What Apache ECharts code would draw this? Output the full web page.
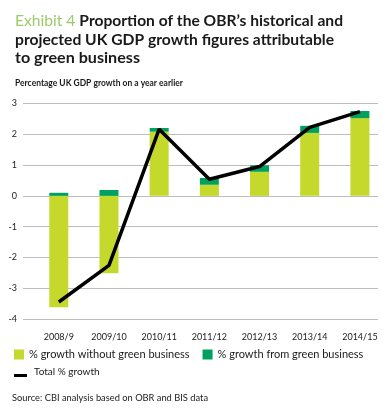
<!DOCTYPE html>
<html><head><meta charset="utf-8">
<script src="https://cdn.jsdelivr.net/npm/echarts@6/dist/echarts.min.js"></script>
<style>html,body{margin:0;padding:0;background:#fff}#c{width:385px;height:410px}</style>
</head><body><div id="c"></div>
<script>
const categories = ['2008/9','2009/10','2010/11','2011/12','2012/13','2013/14','2014/15'];
const withoutGreen = [-3.61, -2.51, 2.08, 0.36, 0.78, 2.04, 2.52];
const fromGreen = [0.10, 0.19, 0.12, 0.22, 0.21, 0.23, 0.23];
const totalGrowth = [-3.44, -2.25, 2.16, 0.54, 0.95, 2.22, 2.73];
const titleLines = ['Proportion of the OBR’s historical and', 'projected UK GDP growth figures attributable', 'to green business'];
const exhibitLabel = 'Exhibit 4 ';
const subtitleText = 'Percentage UK GDP growth on a year earlier';
const sourceText = 'Source: CBI analysis based on OBR and BIS data';

const FONT = "Lato, 'Liberation Sans', sans-serif";
const TXT = '#1a1a1a';
const ctx = document.createElement('canvas').getContext('2d');
function w(text, font) { ctx.font = font; return ctx.measureText(text).width; }

const tFontB = 'bold 16px ' + FONT;
const tFontR = 'normal 16px ' + FONT;
const line1W = w(exhibitLabel, tFontR) + w(titleLines[0], tFontB);
const s1 = 328 / line1W, s2 = 319 / w(titleLines[1], tFontB), s3 = 125 / w(titleLines[2], tFontB);
const subFont = 'bold 9.5px ' + FONT;
const srcFont = 'normal 10px ' + FONT;
const sSub = 168 / w(subtitleText, subFont);
const sSrc = 196 / w(sourceText, srcFont);

const chart = echarts.init(document.getElementById('c'));
chart.setOption({
  animation: false,
  textStyle: { fontFamily: FONT },
  graphic: [
    { type: 'text', x: 15, y: 21, scaleX: s1,
      style: { text: '{a|' + exhibitLabel + '}{b|' + titleLines[0] + '}', verticalAlign: 'middle',
        rich: { a: { font: tFontR, fill: '#9ccb6b' }, b: { font: tFontB, fill: TXT } } } },
    { type: 'text', x: 15, y: 40.3, scaleX: s2,
      style: { text: titleLines[1], font: tFontB, fill: TXT, verticalAlign: 'middle' } },
    { type: 'text', x: 15, y: 57.5, scaleX: s3,
      style: { text: titleLines[2], font: tFontB, fill: TXT, verticalAlign: 'middle' } },
    { type: 'text', x: 15, y: 83.3, scaleX: sSub,
      style: { text: subtitleText, font: subFont, fill: TXT, verticalAlign: 'middle' } },
    { type: 'text', x: 12, y: 397.3, scaleX: sSrc,
      style: { text: sourceText, font: srcFont, fill: TXT, verticalAlign: 'middle' } }
  ],
  legend: [{
    left: 14, top: 349, padding: 0, itemWidth: 10, itemHeight: 10, itemGap: 13,
    icon: 'rect',
    data: ['% growth without green business', '% growth from green business'],
    textStyle: { fontFamily: FONT, fontSize: 11, color: TXT }
  }, {
    left: 14, top: 366, padding: 0, itemWidth: 15, itemHeight: 11, itemGap: 9,
    symbolKeepAspect: false,
    icon: 'path://M0,0M0,8h13v3h-13zM15,0',
    data: [{ name: 'Total % growth', itemStyle: { color: '#000' } }],
    textStyle: { fontFamily: FONT, fontSize: 10, color: TXT }
  }],
  grid: [
    { left: 23, right: 7, top: 103.3, height: 216, containLabel: false },
    { left: 33.7, right: -3, top: 103.3, height: 216, containLabel: false }
  ],
  xAxis: [
    { gridIndex: 0, type: 'category', data: categories, show: false },
    { gridIndex: 1, type: 'category', data: categories,
      axisLine: { show: false }, axisTick: { show: false },
      axisLabel: { margin: 13, fontSize: 9, color: TXT, fontFamily: FONT, interval: 0 } }
  ],
  yAxis: [
    { gridIndex: 0, type: 'value', min: -4, max: 3, interval: 1,
      axisLine: { show: false }, axisTick: { show: false },
      splitLine: { lineStyle: { color: '#bdbdbd', width: 1 } },
      axisLabel: { margin: 6, fontSize: 9, color: TXT, fontFamily: FONT } },
    { gridIndex: 1, type: 'value', min: -4, max: 3, interval: 1, show: false, splitLine: { show: false } }
  ],
  series: [
    { name: '% growth without green business', type: 'bar', stack: 'g', xAxisIndex: 1, yAxisIndex: 1,
      data: withoutGreen, barWidth: 19, itemStyle: { color: '#c5d92d' } },
    { name: '% growth from green business', type: 'bar', stack: 'g', xAxisIndex: 1, yAxisIndex: 1,
      data: fromGreen, barWidth: 19, itemStyle: { color: '#00a05f' } },
    { name: 'Total % growth', type: 'line', xAxisIndex: 1, yAxisIndex: 1, data: totalGrowth,
      symbol: 'none', lineStyle: { color: '#000', width: 3.5 }, itemStyle: { color: '#000' } }
  ]
});
</script></body></html>
